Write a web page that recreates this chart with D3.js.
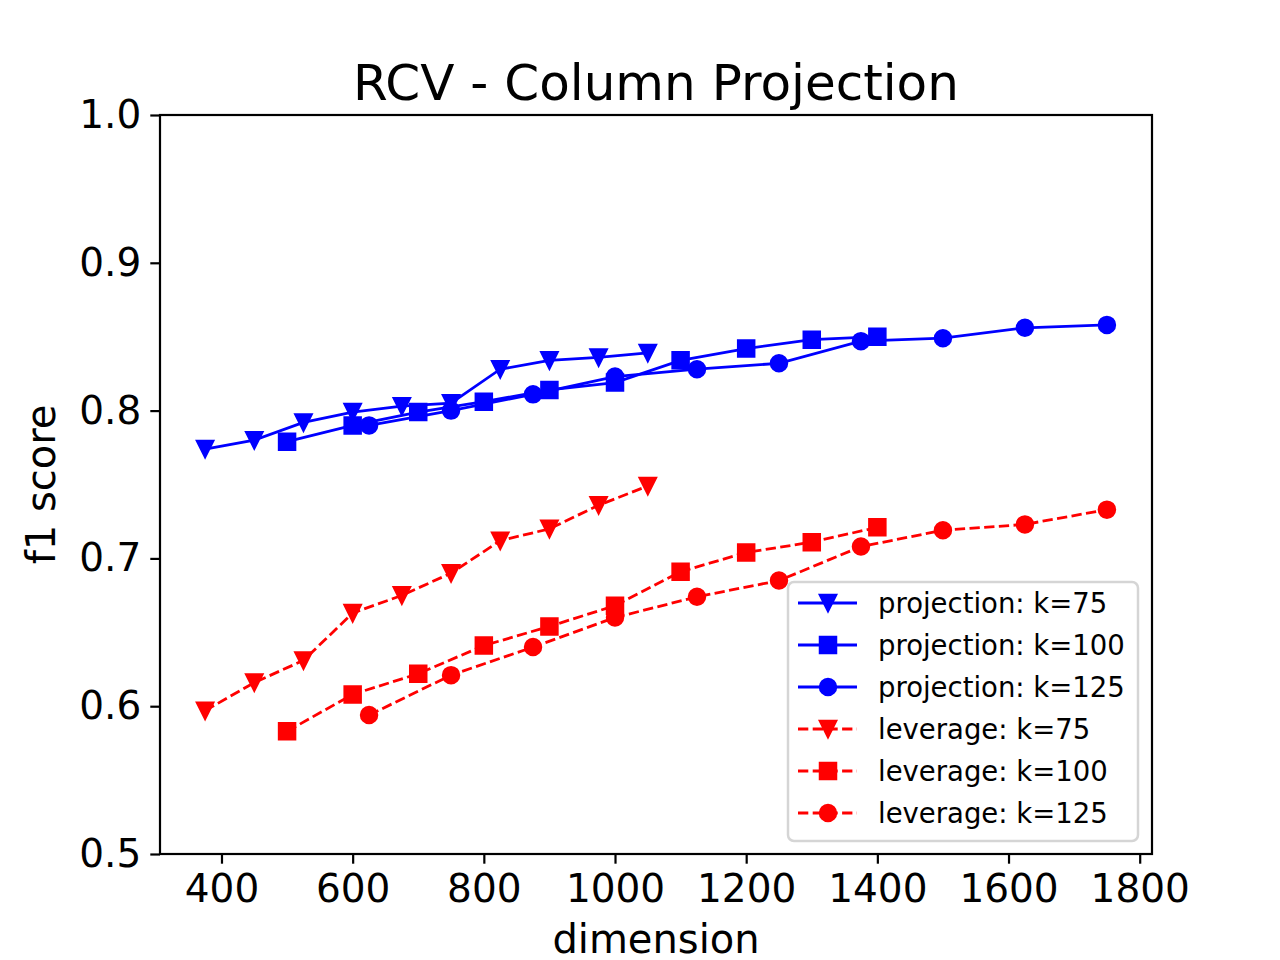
<!DOCTYPE html>
<html>
<head>
<meta charset="utf-8">
<script src="https://cdn.jsdelivr.net/npm/d3@7"></script>
<style>
  body { margin: 0; background: #fff; }
  svg { display: block; font-family: "DejaVu Sans", sans-serif; }
</style>
</head>
<body>
<svg width="1280" height="960"></svg>
<script>
// dimensions sampled for each k
var dims75 = [375, 450, 525, 600, 675, 750, 825, 900, 975, 1050];
var dims100 = [500, 600, 700, 800, 900, 1000, 1100, 1200, 1300, 1400];
var dims125 = [625, 750, 875, 1000, 1125, 1250, 1375, 1500, 1625, 1750];

// f1 scores
var proj75 = [0.774, 0.780, 0.792, 0.799, 0.803, 0.805, 0.828, 0.834, 0.836, 0.839];
var proj100 = [0.779, 0.790, 0.799, 0.806, 0.814, 0.819, 0.834, 0.842, 0.848, 0.850];
var proj125 = [0.790, 0.800, 0.811, 0.823, 0.828, 0.832, 0.847, 0.849, 0.856, 0.858];
var lev75 = [0.597, 0.616, 0.631, 0.663, 0.675, 0.690, 0.712, 0.720, 0.736, 0.749];
var lev100 = [0.583, 0.608, 0.622, 0.641, 0.654, 0.668, 0.691, 0.704, 0.711, 0.721];
var lev125 = [0.594, 0.621, 0.640, 0.660, 0.674, 0.685, 0.708, 0.719, 0.723, 0.733];

var seriesNames = ["projection: k=75", "projection: k=100", "projection: k=125",
                   "leverage: k=75", "leverage: k=100", "leverage: k=125"];

var xTicks = [400, 600, 800, 1000, 1200, 1400, 1600, 1800];
var yTicks = [0.5, 0.6, 0.7, 0.8, 0.9, 1.0];

var series = [
  {name: seriesNames[0], x: dims75, y: proj75, color: "#0000ff", dashed: false, marker: "tri"},
  {name: seriesNames[1], x: dims100, y: proj100, color: "#0000ff", dashed: false, marker: "square"},
  {name: seriesNames[2], x: dims125, y: proj125, color: "#0000ff", dashed: false, marker: "circle"},
  {name: seriesNames[3], x: dims75, y: lev75, color: "#ff0000", dashed: true, marker: "tri"},
  {name: seriesNames[4], x: dims100, y: lev100, color: "#ff0000", dashed: true, marker: "square"},
  {name: seriesNames[5], x: dims125, y: lev125, color: "#ff0000", dashed: true, marker: "circle"}
];

var margin = {left: 160, right: 128, top: 115, bottom: 106};
var W = 1280, H = 960;
var svg = d3.select("svg");

// x domain padded 5% like matplotlib
var xmin = d3.min(dims75), xmax = d3.max(dims125);
var pad = (xmax - xmin) * 0.05;
var x = d3.scaleLinear().domain([xmin - pad, xmax + pad]).range([margin.left, W - margin.right]);
var y = d3.scaleLinear().domain([0.5, 1.0]).range([H - margin.bottom, margin.top]);

var msz = 16;
function markerPath(type) {
  var h = msz / 2;
  if (type == "tri") return "M0," + h + "L" + (-h) + "," + (-h) + "L" + h + "," + (-h) + "Z";
  if (type == "square") return "M" + (-h) + "," + (-h) + "H" + h + "V" + h + "H" + (-h) + "Z";
  return d3.symbol().type(d3.symbolCircle).size(Math.PI * h * h)();
}

var plot = svg.append("g");
var line = d3.line().x(function(d){ return x(d[0]); }).y(function(d){ return y(d[1]); });

series.forEach(function(s) {
  var pts = s.x.map(function(v, i){ return [v, s.y[i]]; });
  plot.append("path")
    .datum(pts)
    .attr("d", line)
    .attr("fill", "none")
    .attr("stroke", s.color)
    .attr("stroke-width", 2.8)
    .attr("stroke-dasharray", s.dashed ? "10.3,4.4" : null);
  plot.selectAll(null)
    .data(pts)
    .enter()
    .append("path")
    .attr("d", markerPath(s.marker))
    .attr("transform", function(d){ return "translate(" + x(d[0]) + "," + y(d[1]) + ")"; })
    .attr("fill", s.color)
    .attr("stroke", s.color)
    .attr("stroke-width", 2.5);
});

// axes
var xAxis = d3.axisBottom(x).tickValues(xTicks).tickSize(9.7).tickPadding(9).tickFormat(d3.format("d"));
var yAxis = d3.axisLeft(y).tickValues(yTicks).tickSize(9.7).tickPadding(9).tickFormat(d3.format(".1f"));

var gx = svg.append("g").attr("transform", "translate(0," + (H - margin.bottom) + ")").call(xAxis);
var gy = svg.append("g").attr("transform", "translate(" + margin.left + ",0)").call(yAxis);
[gx, gy].forEach(function(g) {
  g.select(".domain").remove();
  g.selectAll(".tick line").attr("stroke", "#000").attr("stroke-width", 2.2);
  g.selectAll(".tick text").attr("fill", "#000").style("font-size", "39px").style("font-family", "DejaVu Sans");
});
gx.selectAll(".tick text").attr("dy", "0.75em");

// frame
svg.append("rect")
  .attr("x", margin.left).attr("y", margin.top)
  .attr("width", W - margin.left - margin.right)
  .attr("height", H - margin.top - margin.bottom)
  .attr("fill", "none").attr("stroke", "#000").attr("stroke-width", 2.2);

// title + labels
var cx = (margin.left + W - margin.right) / 2;
svg.append("text").attr("x", cx).attr("y", 100).attr("text-anchor", "middle")
  .style("font-size", "50px").text("RCV - Column Projection");
svg.append("text").attr("x", cx).attr("y", 953).attr("text-anchor", "middle")
  .style("font-size", "40px").text("dimension");
svg.append("text").attr("transform", "translate(55," + ((margin.top + H - margin.bottom) / 2) + ") rotate(-90)")
  .attr("text-anchor", "middle").style("font-size", "40px").text("f1 score");

// legend
var leg = svg.append("g").attr("transform", "translate(788,582)");
leg.append("rect").attr("width", 350).attr("height", 259).attr("rx", 6)
  .attr("fill", "#fff").attr("fill-opacity", 0.8)
  .attr("stroke", "#d5d5d5").attr("stroke-width", 2.5);
series.forEach(function(s, i) {
  var ry = 21 + i * 42;
  var row = leg.append("g").attr("transform", "translate(0," + ry + ")");
  row.append("line").attr("x1", 10).attr("x2", 69).attr("y1", 0).attr("y2", 0)
    .attr("stroke", s.color).attr("stroke-width", 2.8)
    .attr("stroke-dasharray", s.dashed ? "10.3,4.4" : null);
  row.append("path").attr("d", markerPath(s.marker)).attr("transform", "translate(40,0)")
    .attr("fill", s.color).attr("stroke", s.color).attr("stroke-width", 2.5);
  row.append("text").attr("x", 90).attr("y", 0).attr("dy", "0.35em")
    .style("font-size", "27.5px").text(s.name);
});
</script>
</body>
</html>
